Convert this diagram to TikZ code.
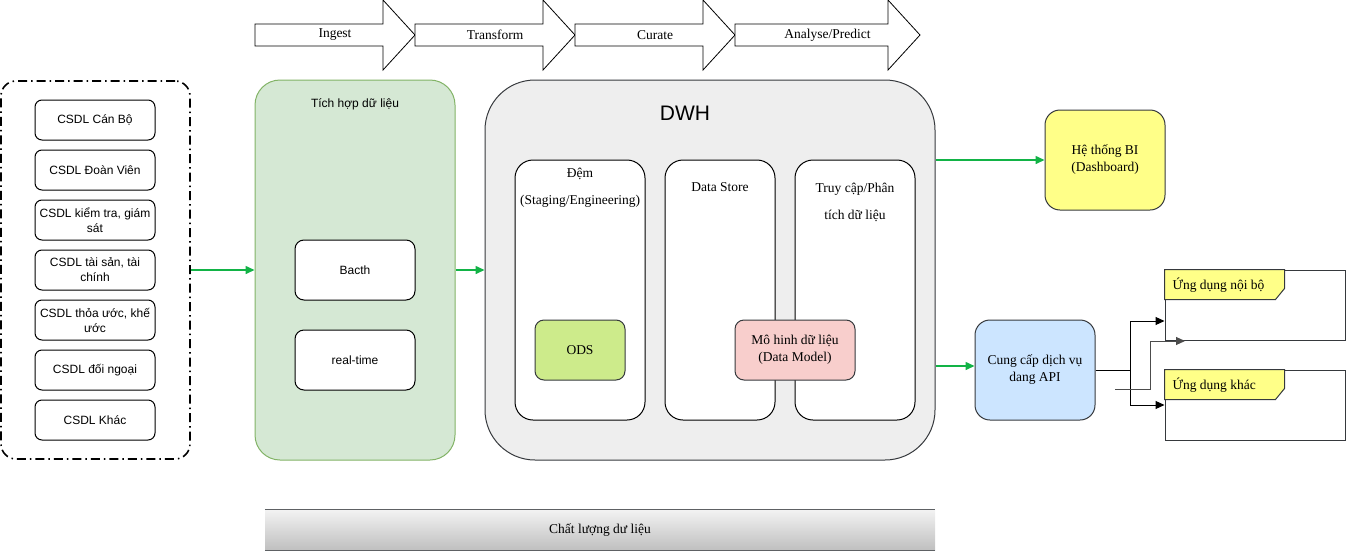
\documentclass[tikz,border=0pt]{standalone}
\usepackage{fontspec}
\setmainfont{Liberation Serif}
\setsansfont{Liberation Sans}
\usepackage{tikz}
\usetikzlibrary{arrows.meta,positioning}
\definecolor{IntgBG}{HTML}{D5E8D4}
\definecolor{IntgFrame}{HTML}{82B366}
\definecolor{DwhBG}{HTML}{EEEEEE}
\definecolor{BoxFrame}{HTML}{36393D}
\definecolor{OdsBG}{HTML}{CDEB8B}
\definecolor{ModelBG}{HTML}{F8CECC}
\definecolor{BiBG}{HTML}{FFFF88}
\definecolor{ApiBG}{HTML}{CCE5FF}
\definecolor{FlowGreen}{HTML}{12B346}
\newcommand{\sz}{\sffamily\fontsize{12}{15}\selectfont}
\newcommand{\srf}{\rmfamily\fontsize{13.5}{17}\selectfont}

\begin{document}
\begin{tikzpicture}[x=1pt, y=-1pt,
  src/.style={draw, rounded corners=7pt, fill=white, line width=1pt,
              minimum width=120pt, minimum height=40pt,
              inner sep=2pt, align=center, font=\sz},
  panel/.style={draw, line width=1pt, fill=white, rounded corners=18pt,
                minimum height=260pt},
  item/.style={draw=BoxFrame, line width=1pt, rounded corners=9pt,
               minimum width=120pt, minimum height=60pt, align=center,
               font=\srf},
  ttl/.style={align=center, inner sep=0pt},
  flow/.style={->, FlowGreen, line width=1.5pt},
  conn/.style={->, line width=1pt},
  >={Triangle[length=9pt,width=8pt]}]
  \useasboundingbox (0,0) rectangle (1347,552);

  % process chevrons
  \foreach \sx/\ex/\nm/\lbl in {255/415/ingest/Ingest, 415/575/transf/Transform,
                                575/735/curate/Curate, 735/920/analyse/{Analyse/Predict}}{
    \draw[line width=0.8pt, fill=white] (\sx,24) -- ({\ex-32},24) -- ({\ex-32},0)
      -- (\ex,35) -- ({\ex-32},70) -- ({\ex-32},46) -- (\sx,46) -- cycle;
    \node[font=\srf] (\nm) at ({(\sx+\ex)/2},35) {\lbl};
  }

  % sources
  \node[draw, line width=1.6pt, rounded corners=15pt,
        dash pattern=on 9pt off 4pt on 1.5pt off 4pt,
        minimum width=189pt, minimum height=378pt] (srcs) at (95.5,270) {};
  \node[src] (s1) at (95,120) {CSDL Cán Bộ};
  \node[src] (s2) at (95,170) {CSDL Đoàn Viên};
  \node[src] (s3) at (95,220) {CSDL kiểm tra, giám\\sát};
  \node[src] (s4) at (95,270) {CSDL tài sản, tài\\chính};
  \node[src] (s5) at (95,320) {CSDL thỏa ước, khế\\ước};
  \node[src] (s6) at (95,370) {CSDL đối ngoại};
  \node[src] (s7) at (95,420) {CSDL Khác};

  % integration
  \node[draw=IntgFrame, fill=IntgBG, line width=1pt, rounded corners=25pt,
        minimum width=200pt, minimum height=380pt] (intg) at (355,270) {};
  \node[ttl, font=\sz] (intgT) at (355,104) {Tích hợp dữ liệu};
  \node[src, minimum height=60pt, rounded corners=9pt] (batch) at (355,270) {Bacth};
  \node[src, minimum height=60pt, rounded corners=9pt] (rt) at (355,360) {real-time};

  % warehouse
  \node[draw=BoxFrame, fill=DwhBG, line width=1pt, rounded corners=50pt,
        minimum width=450pt, minimum height=380pt] (dwh) at (710,270) {};
  \node[ttl, font=\sffamily\fontsize{21}{24}\selectfont] (dwhT) at (685,113) {DWH};
  \node[panel, minimum width=130pt] (stg) at (580,290) {};
  \node[panel, minimum width=110pt] (store) at (720,290) {};
  \node[panel, minimum width=120pt] (access) at (855,290) {};
  \node[ttl, font=\rmfamily\fontsize{13.5}{27}\selectfont] (stgT) at (580,187.5)
    {Đệm\\(Staging/Engineering)};
  \node[ttl, font=\srf] (storeT) at (720,187) {Data Store};
  \node[ttl, font=\rmfamily\fontsize{13.5}{27}\selectfont] (accessT) at (855,202.5)
    {Truy cập/Phân\\tích dữ liệu};
  \node[item, fill=OdsBG, minimum width=90pt] (ods) at (580,350) {ODS};
  \node[item, fill=ModelBG] (model) at (795,350) {Mô hinh dữ liệu\\(Data Model)};

  % consumers
  \node[item, fill=BiBG, rounded corners=15pt, minimum height=100pt] (bi) at (1105,160)
    {Hệ thống BI\\(Dashboard)};
  \node[item, fill=ApiBG, rounded corners=15pt, minimum height=100pt] (api) at (1035,370)
    {Cung cấp dịch vụ\\dang API};
  \node[draw=BoxFrame, line width=1pt, minimum width=180pt, minimum height=70pt]
    (appIn) at (1255,305) {};
  \node[draw=BoxFrame, line width=1pt, minimum width=180pt, minimum height=70pt]
    (appOut) at (1255,405) {};
  \draw[draw=BoxFrame, fill=BiBG, line width=1pt] (appIn.north west) -- ++(120,0)
    -- ++(0,19) -- ++(-9,11) -- ++(-111,0) -- cycle;
  \draw[draw=BoxFrame, fill=BiBG, line width=1pt] (appOut.north west) -- ++(120,0)
    -- ++(0,19) -- ++(-9,11) -- ++(-111,0) -- cycle;
  \node[font=\srf, anchor=west] (appInT) at (1169,285) {Ứng dụng nội bộ};
  \node[font=\srf, anchor=west] (appOutT) at (1169,385) {Ứng dụng khác};

  % quality bar
  \node[top color=white!95!black, bottom color=black!25, minimum width=670pt,
        minimum height=40pt, font=\srf] (qual) at (600,530) {Chất lượng dư liệu};
  \draw[BoxFrame!80, line width=1pt] (qual.north west) -- (qual.north east)
    (qual.south west) -- (qual.south east);

  % flows
  \draw[flow] (srcs) -- (intg);
  \draw[flow] (intg) -- (dwh);
  \draw[flow] (dwh.east |- bi.west) -- (bi.west);
  \draw[flow] ([yshift=4pt]dwh.east |- api.west) -- ([yshift=4pt]api.west);
  \coordinate (fork) at (1130,370);
  \coordinate (stray) at (1115,389);
  \coordinate (strayEnd) at (1185,341);
  \draw[conn] (api.east) -- (fork) |- ([yshift=-16pt]appIn.west);
  \draw[conn] (api.east) -- (fork) |- (appOut.west);
  \draw[conn, black!70] (stray) -- ++(35,0) |- (strayEnd);
\end{tikzpicture}
\end{document}
